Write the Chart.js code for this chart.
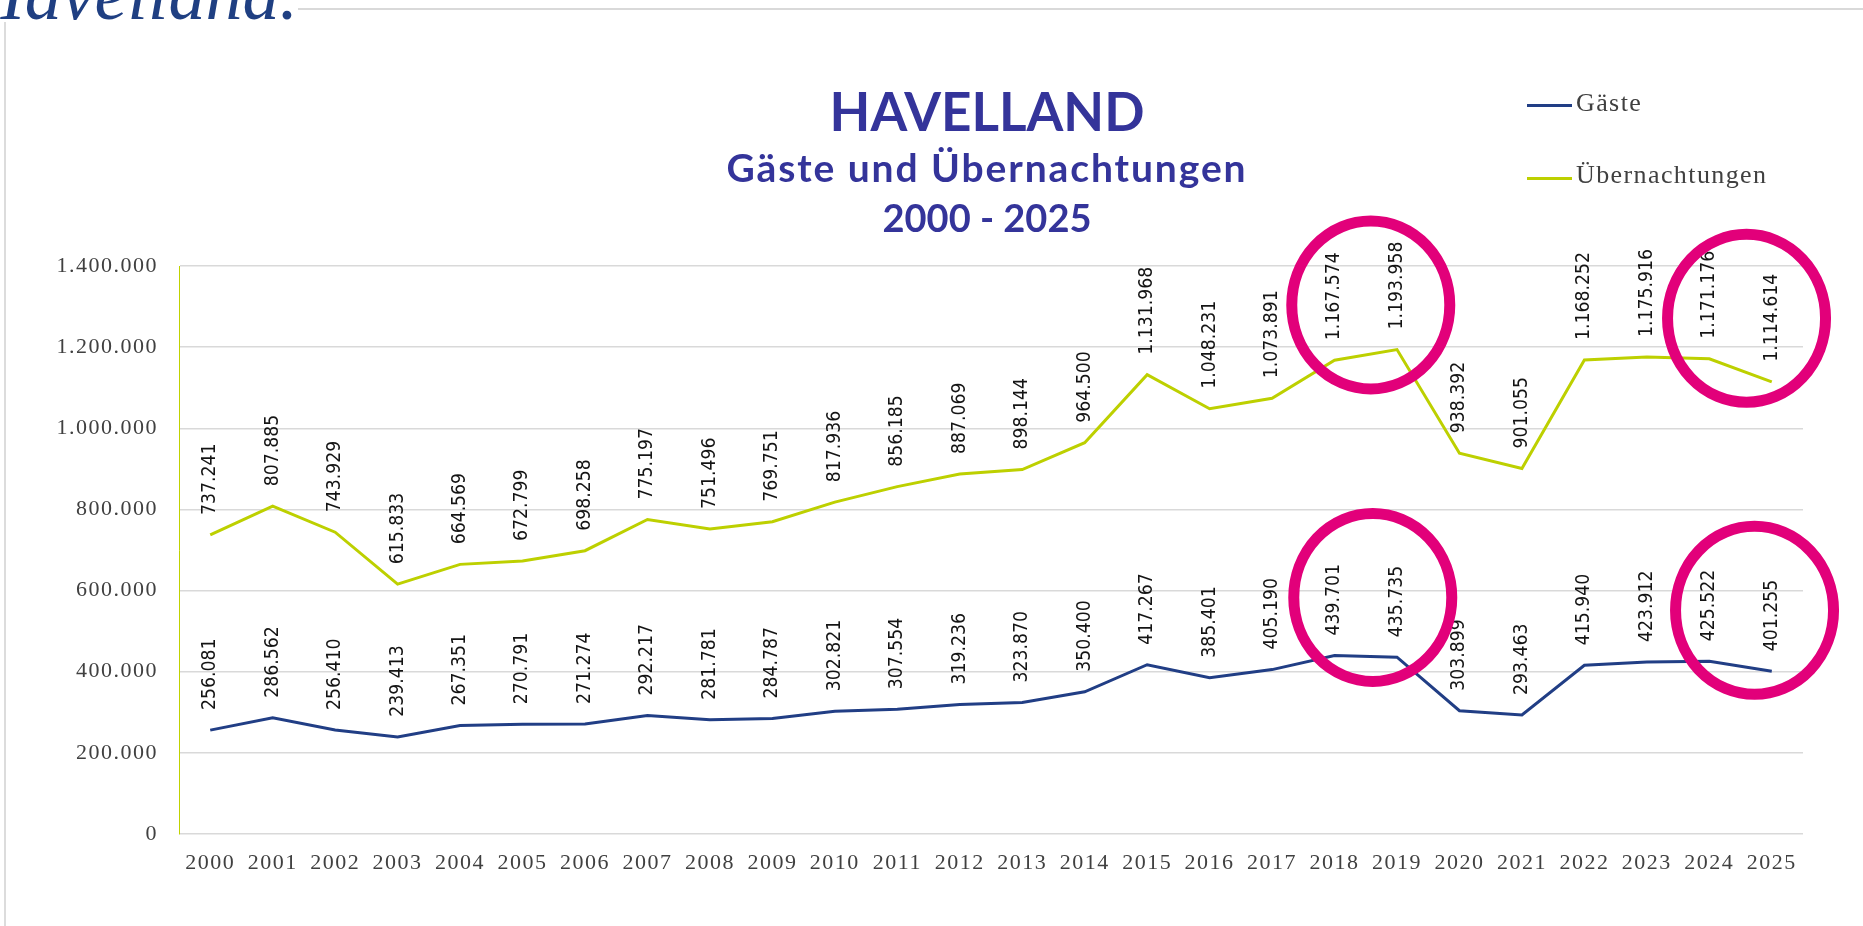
<!DOCTYPE html>
<html lang="de">
<head>
<meta charset="utf-8">
<script src="https://cdn.jsdelivr.net/npm/chart.js@4"></script>
<style>
  html, body { margin:0; padding:0; background:#fff; }
  #wrap { position:relative; width:1863px; height:926px; overflow:hidden; background:#fff; }
  #c { position:absolute; left:0; top:0; }
  .t { position:absolute; left:0; width:1974px; text-align:center; font-family:Lato, sans-serif; font-weight:700; color:#34349a; line-height:1; white-space:nowrap; }
  .lg { position:absolute; font-family:"Liberation Serif", serif; font-size:26px; letter-spacing:1.4px; color:#404040; line-height:1; white-space:nowrap; }
  .lgl { position:absolute; height:3px; width:45px; }
  #logo { position:absolute; right:1565px; top:-43px; font-family:"Liberation Serif", serif; font-style:italic; font-size:74px; line-height:1; color:#1f3f82; white-space:nowrap; }
  #hline { position:absolute; left:298px; top:8px; width:1565px; height:2px; background:#d9d9d9; }
  #vline { position:absolute; left:4px; top:22px; width:2px; height:904px; background:#dcdcdc; }
</style>
</head>
<body>
<div id="wrap">
  <canvas id="c" width="1863" height="926"></canvas>
  <div id="logo">Havelland.</div>
  <div id="hline"></div>
  <div id="vline"></div>
  <div class="t" style="top:84px;font-size:53px;">HAVELLAND</div>
  <div class="t" style="top:148px;font-size:39px;letter-spacing:1.9px;">Gäste und Übernachtungen</div>
  <div class="t" style="top:198px;font-size:38px;">2000 - 2025</div>
  <div class="lgl" style="left:1527px;top:104px;background:#213e85;"></div>
  <div class="lg" style="left:1576px;top:90px;">Gäste</div>
  <div class="lgl" style="left:1527px;top:177px;background:#bdd000;"></div>
  <div class="lg" style="left:1576px;top:162px;">Übernachtungen</div>
</div>
<script>
const years = ['2000','2001','2002','2003','2004','2005','2006','2007','2008','2009','2010','2011','2012','2013','2014','2015','2016','2017','2018','2019','2020','2021','2022','2023','2024','2025'];
const gaeste = [256081, 286562, 256410, 239413, 267351, 270791, 271274, 292217, 281781, 284787, 302821, 307554, 319236, 323870, 350400, 417267, 385401, 405190, 439701, 435735, 303899, 293463, 415940, 423912, 425522, 401255];
const uebernachtungen = [737241, 807885, 743929, 615833, 664569, 672799, 698258, 775197, 751496, 769751, 817936, 856185, 887069, 898144, 964500, 1131968, 1048231, 1073891, 1167574, 1193958, 938392, 901055, 1168252, 1175916, 1171176, 1114614];
const yTicks = [0, 200000, 400000, 600000, 800000, 1000000, 1200000, 1400000];
// hand-drawn highlight rings: which years / which series (0 = Gäste, 1 = Übernachtungen)
const highlightYears = [['2018','2019'], ['2018','2019'], ['2024','2025'], ['2024','2025']];
const highlightSeries = [1, 0, 1, 0];

function fmt(v) { return String(v).replace(/\B(?=(\d{3})+(?!\d))/g, '.'); }

const ringStyle = [
  { dx: 5, dy: -50 },
  { dx: 7, dy: -59 },
  { dx: 6, dy: -52 },
  { dx: 14, dy: -56 }
];

const spacingPlugin = {
  id: 'spacing',
  beforeDraw(chart) { chart.ctx.letterSpacing = '1.5px'; }
};

const labelPlugin = {
  id: 'vlabels',
  afterDatasetsDraw(chart) {
    const ctx = chart.ctx;
    chart.data.datasets.forEach((ds, i) => {
      const meta = chart.getDatasetMeta(i);
      meta.data.forEach((pt, j) => {
        ctx.save();
        ctx.letterSpacing = '0px';
        ctx.translate(pt.x, pt.y - 20);
        ctx.rotate(-Math.PI / 2);
        ctx.scale(0.91, 1);
        ctx.font = '19px "DejaVu Sans"';
        ctx.fillStyle = '#141414';
        ctx.textAlign = 'left';
        ctx.textBaseline = 'middle';
        ctx.fillText(fmt(ds.data[j]), 0, 0);
        ctx.restore();
      });
    });
  }
};

const circlePlugin = {
  id: 'circles',
  afterDraw(chart) {
    const ctx = chart.ctx;
    highlightYears.forEach((pair, k) => {
      const idx = pair.map(y => years.indexOf(y));
      const meta = chart.getDatasetMeta(highlightSeries[k]);
      const st = ringStyle[k];
      const cx = (meta.data[idx[0]].x + meta.data[idx[1]].x) / 2 + st.dx;
      const cy = (meta.data[idx[0]].y + meta.data[idx[1]].y) / 2 + st.dy;
      ctx.save();
      ctx.beginPath();
      ctx.ellipse(cx, cy, 79, 84, 0, 0, Math.PI * 2);
      ctx.lineWidth = 11;
      ctx.strokeStyle = '#e2007a';
      ctx.stroke();
      ctx.restore();
    });
  }
};

new Chart(document.getElementById('c'), {
  type: 'line',
  data: {
    labels: years,
    datasets: [
      { label: 'Gäste', data: gaeste, borderColor: '#213e85', backgroundColor: '#213e85', borderWidth: 3, pointRadius: 0, tension: 0 },
      { label: 'Übernachtungen', data: uebernachtungen, borderColor: '#bdd000', backgroundColor: '#bdd000', borderWidth: 3, pointRadius: 0, tension: 0 }
    ]
  },
  options: {
    responsive: false,
    animation: false,
    devicePixelRatio: 1,
    layout: { padding: { left: 0, right: 60, top: 266, bottom: 42 } },
    plugins: { legend: { display: false }, title: { display: false }, tooltip: { enabled: false } },
    scales: {
      x: {
        offset: true,
        grid: { display: false },
        border: { display: false },
        ticks: { font: { family: 'Liberation Serif', size: 22 }, color: '#404040', padding: 8, maxRotation: 0, autoSkip: false },
        afterFit(s) { s.height = 50; }
      },
      y: {
        min: 0, max: 1400000,
        afterBuildTicks(s) { s.ticks = yTicks.map(v => ({ value: v })); },
        grid: { color: '#d9d9d9', lineWidth: 1.5, drawTicks: false },
        border: { display: true, color: '#bfd200', width: 1 },
        ticks: { font: { family: 'Liberation Serif', size: 22 }, color: '#404040', padding: 21, callback: v => fmt(v) },
        afterFit(s) { s.width = 179; }
      }
    }
  },
  plugins: [spacingPlugin, labelPlugin, circlePlugin]
});
</script>
</body>
</html>
